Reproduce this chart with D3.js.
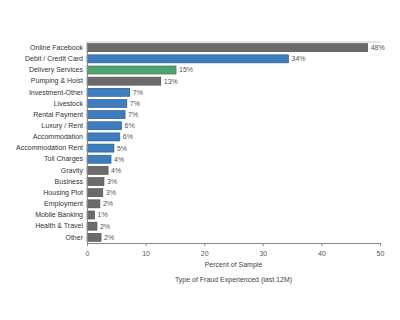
<!DOCTYPE html>
<html><head><meta charset="utf-8">
<script src="https://cdn.jsdelivr.net/npm/d3@7"></script>
<style>body{margin:0;background:#fff;font-family:"Liberation Sans",Arial,sans-serif}</style>
</head><body><svg id="c" width="400" height="320"></svg>
<script>
const categories = ["Online Facebook","Debit / Credit Card","Delivery Services","Pumping & Hoist","Investment-Other","Livestock","Rental Payment","Luxury / Rent","Accommodation","Accommodation Rent","Toll Charges","Gravity","Business","Housing Plot","Employment","Mobile Banking","Health & Travel","Other"];
const values = [47.9,34.4,15.2,12.6,7.3,6.8,6.5,5.9,5.6,4.6,4.1,3.6,2.9,2.7,2.2,1.3,1.7,2.4];
const groups = ["g","b","d","g","b","b","b","b","b","b","b","g","g","g","g","g","g","g"];
const xTicks = [0,10,20,30,40,50];
const xTitle = "Percent of Sample";
const subTitle = "Type of Fraud Experienced (last 12M)";

const svg = d3.select("#c");
const m = {l:87, r:20, t:42, b:77};
const W = 400, H = 320;
const x = d3.scaleLinear().domain([0,50]).range([m.l, W-m.r]);
const y = d3.scaleBand().domain(categories).range([m.t, H-m.b]).paddingInner(0.28).paddingOuter(0.15);
const fill = d3.scaleOrdinal().domain(["g","b","d"]).range(["#6b6b6b","#3d7dbf","#4fa36e"]);
const stroke = d3.scaleOrdinal().domain(["g","b","d"]).range(["#4a4a4a","#25557f","#2f7048"]);

svg.append("line").attr("x1",x(0)).attr("x2",x(50)).attr("y1",m.t).attr("y2",m.t).attr("stroke","#ccc");

svg.selectAll("rect.bar").data(categories).join("rect").attr("class","bar")
  .attr("x",x(0)).attr("y",d=>y(d)).attr("height",y.bandwidth())
  .attr("width",(d,i)=>x(values[i])-x(0))
  .attr("fill",(d,i)=>fill(groups[i])).attr("stroke",(d,i)=>stroke(groups[i])).attr("stroke-width",0.6);

svg.selectAll("text.val").data(categories).join("text").attr("class","val")
  .attr("x",(d,i)=>x(values[i])+3).attr("y",d=>y(d)+y.bandwidth()/2).attr("dy","0.35em")
  .attr("font-size",7).attr("fill","#555").text((d,i)=>Math.round(values[i])+"%");

const ya = svg.append("g").attr("transform",`translate(${x(0)},0)`).call(d3.axisLeft(y).tickSize(0).tickPadding(4));
ya.select(".domain").attr("stroke","#888");
ya.selectAll("text").attr("font-size",7).attr("fill","#333").attr("font-family","Liberation Sans, Arial, sans-serif");

const xa = svg.append("g").attr("transform",`translate(0,${H-m.b})`).call(d3.axisBottom(x).tickValues(xTicks).tickSize(3).tickPadding(5));
xa.select(".domain").attr("stroke","#888");
xa.selectAll("line").attr("stroke","#888");
xa.selectAll("text").attr("font-size",7).attr("fill","#555").attr("font-family","Liberation Sans, Arial, sans-serif");

svg.append("text").attr("x",(x(0)+x(50))/2).attr("y",267).attr("text-anchor","middle").attr("font-size",7).attr("fill","#444").text(xTitle);
svg.append("text").attr("x",(x(0)+x(50))/2).attr("y",282).attr("text-anchor","middle").attr("font-size",7).attr("fill","#444").text(subTitle);
</script></body></html>
